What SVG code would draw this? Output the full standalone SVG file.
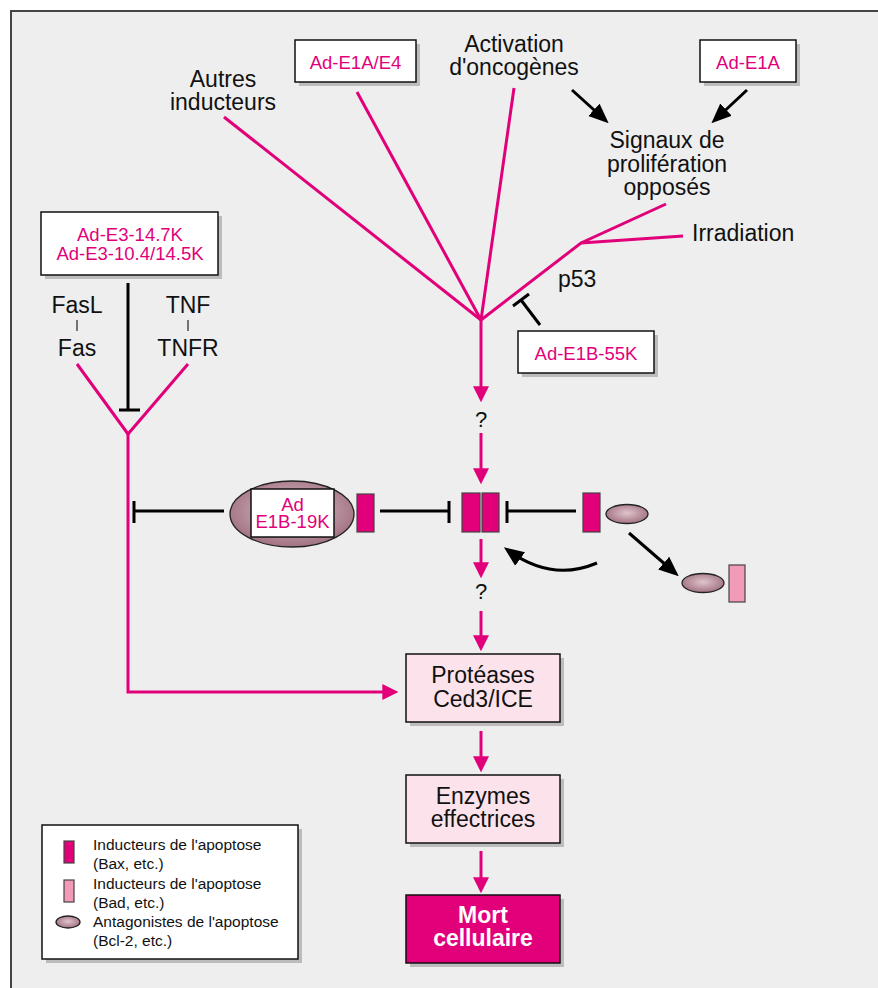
<svg xmlns="http://www.w3.org/2000/svg" width="878" height="988" viewBox="0 0 878 988">
<style>
text{font-family:"Liberation Sans",Arial,Helvetica,sans-serif;}
.t{font-size:23px;fill:#111;text-anchor:middle;}
.tl{font-size:23px;fill:#111;}
.pk{font-size:18.5px;fill:#e2007a;text-anchor:middle;}
.lg{font-size:15.5px;fill:#111;}
.wb{fill:#fff;stroke:#111;stroke-width:1.5;}
.pb{fill:#fce3eb;stroke:#111;stroke-width:1.5;}
.sh{fill:#bcbcbc;}
.pl{stroke:#e2007a;stroke-width:3;fill:none;}
.bl{stroke:#000;stroke-width:3;fill:none;}
.ind{fill:#e2007a;stroke:#444;stroke-width:1.2;}
.ind2{fill:#f29ab9;stroke:#444;stroke-width:1.2;}
.ant{fill:url(#ag);stroke:#222;stroke-width:1.3;}
</style>
<defs>
<radialGradient id="ag" cx="50%" cy="45%" r="60%">
<stop offset="0" stop-color="#e0c4cc"/>
<stop offset="1" stop-color="#9c6b7b"/>
</radialGradient>
<marker id="pa" markerUnits="userSpaceOnUse" markerWidth="16" markerHeight="16" refX="10" refY="7.5" orient="auto" viewBox="0 0 15 15">
<path d="M0,0 L15,7.5 L0,15 Z" fill="#e2007a"/>
</marker>
<marker id="ba" markerUnits="userSpaceOnUse" markerWidth="20" markerHeight="18" refX="13" refY="8" orient="auto" viewBox="0 0 19 16">
<path d="M0,0 L19,8 L0,16 Z" fill="#000"/>
</marker>
</defs>
<rect x="0" y="0" width="878" height="988" fill="#fff"/>
<rect x="11" y="11" width="900" height="1000" fill="#eeeeee" stroke="#444" stroke-width="2"/>

<g id="connectors">
<line class="pl" x1="224" y1="117" x2="481" y2="320"/>
<line class="pl" x1="357" y1="92" x2="481" y2="320"/>
<line class="pl" x1="514" y1="88" x2="481" y2="320"/>
<polyline class="pl" points="481,320 581,243 666,204"/>
<line class="pl" x1="581" y1="243" x2="683" y2="236"/>
<line class="pl" x1="481" y1="320" x2="481" y2="397" marker-end="url(#pa)"/>
<line class="pl" x1="481" y1="433" x2="481" y2="479" marker-end="url(#pa)"/>
<line class="pl" x1="481" y1="539" x2="481" y2="573" marker-end="url(#pa)"/>
<line class="pl" x1="481" y1="611" x2="481" y2="646" marker-end="url(#pa)"/>
<line class="pl" x1="481" y1="731" x2="481" y2="767" marker-end="url(#pa)"/>
<line class="pl" x1="481" y1="851" x2="481" y2="888" marker-end="url(#pa)"/>
<polyline class="pl" points="77,364 128,434 188,364"/>
<polyline class="pl" points="128,434 128,692 393,692" marker-end="url(#pa)"/>
<line class="bl" x1="572" y1="90" x2="604" y2="119" marker-end="url(#ba)"/>
<line class="bl" x1="747" y1="90" x2="716" y2="119" marker-end="url(#ba)"/>
<line class="bl" x1="540" y1="325" x2="521" y2="300"/>
<line class="bl" x1="513" y1="306" x2="529" y2="294"/>
<line class="bl" x1="128" y1="283" x2="128" y2="410"/>
<line class="bl" x1="119" y1="410" x2="140" y2="410"/>
<line class="bl" x1="134" y1="511" x2="224" y2="511"/>
<line class="bl" x1="134" y1="501" x2="134" y2="523"/>
<line class="bl" x1="380" y1="511" x2="449" y2="511"/>
<line class="bl" x1="449" y1="501" x2="449" y2="523"/>
<line class="bl" x1="507" y1="511" x2="576" y2="511"/>
<line class="bl" x1="507" y1="501" x2="507" y2="523"/>
<path class="bl" d="M597,563 Q552,582 509,551" marker-end="url(#ba)"/>
<line class="bl" x1="629" y1="533" x2="674" y2="572" marker-end="url(#ba)"/>
<line stroke="#222" stroke-width="1.2" x1="77" y1="320" x2="77" y2="331"/>
<line stroke="#222" stroke-width="1.2" x1="188" y1="320" x2="188" y2="331"/>
</g>

<g id="autres"><text class="t" x="223" y="87">Autres</text><text class="t" x="223" y="110">inducteurs</text></g>
<g id="ad-e1a-e4"><rect class="sh" x="299" y="44" width="121" height="42"/><rect class="wb" x="295" y="40" width="121" height="42"/><text class="pk" x="355.5" y="69">Ad-E1A/E4</text></g>
<g id="activation"><text class="t" x="514" y="52">Activation</text><text class="t" x="514" y="75">d'oncogènes</text></g>
<g id="ad-e1a"><rect class="sh" x="704" y="44" width="96" height="42"/><rect class="wb" x="700" y="40" width="96" height="42"/><text class="pk" x="748" y="69">Ad-E1A</text></g>
<g id="signaux"><text class="t" x="667" y="148">Signaux de</text><text class="t" x="667" y="172">prolifération</text><text class="t" x="667" y="195">opposés</text></g>
<g id="irradiation"><text class="tl" x="692" y="241">Irradiation</text></g>
<g id="p53"><text class="tl" x="558" y="287">p53</text></g>
<g id="ad-e1b-55k"><rect class="sh" x="522" y="335" width="136" height="42"/><rect class="wb" x="518" y="331" width="136" height="42"/><text class="pk" x="586" y="360">Ad-E1B-55K</text></g>
<g id="ad-e3"><rect class="sh" x="45" y="216" width="177" height="63"/><rect class="wb" x="41" y="212" width="177" height="63"/><text class="pk" x="130" y="241">Ad-E3-14.7K</text><text class="pk" x="130" y="259.5">Ad-E3-10.4/14.5K</text></g>
<g id="fasl"><text class="t" x="77" y="313">FasL</text><text class="t" x="77" y="356">Fas</text></g>
<g id="tnf"><text class="t" x="188" y="313">TNF</text><text class="t" x="188" y="356">TNFR</text></g>
<g id="q1"><text class="t" x="481" y="427" style="font-size:22px">?</text></g>
<g id="q2"><text class="t" x="481" y="599" style="font-size:22px">?</text></g>
<g id="ad-e1b-19k"><ellipse class="ant" cx="292" cy="514" rx="62" ry="33"/><rect class="wb" x="251" y="489" width="83" height="48"/><text class="pk" x="292.5" y="511">Ad</text><text class="pk" x="292.5" y="528">E1B-19K</text></g>
<g id="bax-left"><rect class="ind" x="357" y="494" width="17" height="38"/></g>
<g id="bax-pair"><rect class="ind" x="462" y="493" width="18" height="39"/><rect class="ind" x="482" y="493" width="17" height="39"/></g>
<g id="bax-bcl2"><rect class="ind" x="583" y="493" width="17" height="39"/><ellipse class="ant" cx="627" cy="514" rx="21" ry="9.5"/></g>
<g id="bcl2-bad"><ellipse class="ant" cx="703" cy="583" rx="21" ry="9.5"/><rect class="ind2" x="729" y="565" width="16" height="37"/></g>
<g id="proteases"><rect class="sh" x="410" y="658" width="154" height="68"/><rect class="pb" x="406" y="654" width="154" height="68"/><text class="t" x="483" y="683">Protéases</text><text class="t" x="483" y="707">Ced3/ICE</text></g>
<g id="enzymes"><rect class="sh" x="410" y="779" width="154" height="68"/><rect class="pb" x="406" y="775" width="154" height="68"/><text class="t" x="483" y="804">Enzymes</text><text class="t" x="483" y="827">effectrices</text></g>
<g id="mort"><rect class="sh" x="410" y="899" width="154" height="68"/><rect x="406" y="895" width="154" height="68" fill="#e2007a" stroke="#111" stroke-width="1.5"/><text class="t" x="483" y="923" style="font-weight:bold;fill:#fff">Mort</text><text class="t" x="483" y="946" style="font-weight:bold;fill:#fff">cellulaire</text></g>
<g id="legend"><rect class="sh" x="46" y="829" width="256" height="134"/><rect class="wb" x="42" y="825" width="256" height="134"/>
<rect class="ind" x="64" y="841" width="10" height="22"/>
<text class="lg" x="93" y="850">Inducteurs de l'apoptose</text><text class="lg" x="93" y="869">(Bax, etc.)</text>
<rect class="ind2" x="64" y="880" width="10" height="22"/>
<text class="lg" x="93" y="889">Inducteurs de l'apoptose</text><text class="lg" x="93" y="908">(Bad, etc.)</text>
<ellipse class="ant" cx="68" cy="922" rx="12" ry="6"/>
<text class="lg" x="93" y="927">Antagonistes de l'apoptose</text><text class="lg" x="93" y="946">(Bcl-2, etc.)</text>
</g>
</svg>
